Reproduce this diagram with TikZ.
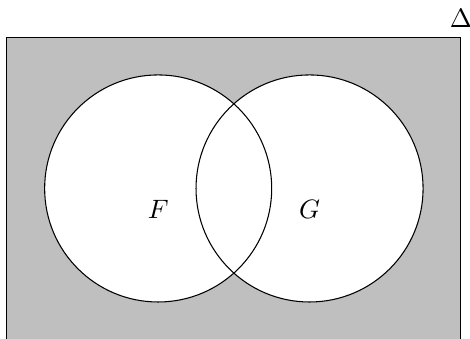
\documentclass[tikz,border=0pt]{standalone}
\usetikzlibrary{positioning}

\begin{document}
\begin{tikzpicture}[
  universe/.style={draw, fill=gray!50},
  setfill/.style={fill=white},
  setline/.style={draw},
  setlabel/.style={inner sep=2pt}
]
  \useasboundingbox (-3.09,-1.98) rectangle (3.12,2.49);

  % Ensemble universel
  \draw[universe] (-3,-2) rectangle (3,2);
  \coordinate (corner) at (3,2);
  \node[above=0pt of corner] (delta) {$\Delta$};

  % Les deux ensembles
  \coordinate (cf) at (-1,0);
  \coordinate (cg) at (1,0);
  \fill[setfill] (cf) circle (1.5);
  \fill[setfill] (cg) circle (1.5);
  \draw[setline] (cf) circle (1.5);
  \draw[setline] (cg) circle (1.5);

  \node[setlabel] (lf) at (-1,-0.28) {$F$};
  \node[setlabel] (lg) at (1,-0.28) {$G$};

\end{tikzpicture}
\end{document}
